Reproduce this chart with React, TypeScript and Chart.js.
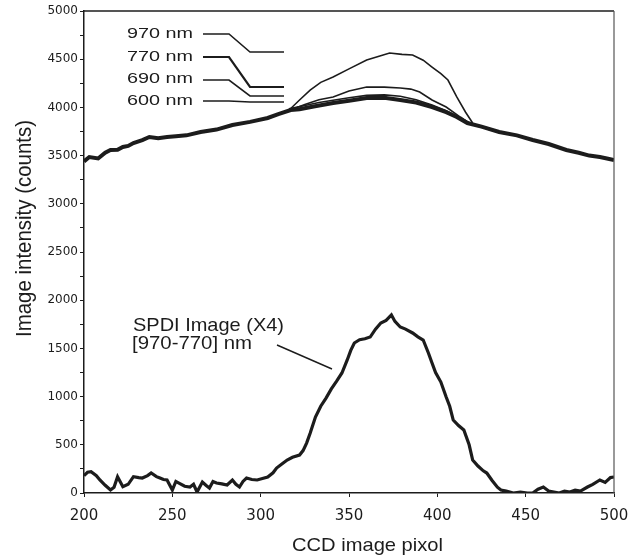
import React, { useEffect, useRef } from "react";
import { Chart, registerables } from "chart.js";

Chart.register(...registerables);

// ---- Data ----
const xTickValues = [200, 250, 300, 350, 400, 450, 500];
const yTickValues = [0, 500, 1000, 1500, 2000, 2500, 3000, 3500, 4000, 4500, 5000];

const legendLabels = ["970 nm", "770 nm", "690 nm", "600 nm"];
const spdiLabels = ["SPDI Image (X4)", "[970-770] nm"];
const xTitle = "CCD image pixol";
const yTitle = "Image intensity (counts)";

// 600 nm (thick base curve)
const base600X = [200, 203, 208, 212, 215, 219, 222, 225, 228, 233, 237, 242, 247, 252, 258, 266, 275, 284, 294, 304, 310, 317, 322, 330, 341, 350, 360, 370, 379, 388, 397, 405, 411, 417, 425, 435, 445, 454, 463, 473, 480, 486, 492, 496, 500];
const base600Y = [3440, 3485, 3470, 3530, 3558, 3560, 3590, 3600, 3631, 3660, 3693, 3680, 3693, 3700, 3710, 3745, 3770, 3817, 3850, 3890, 3930, 3973, 3980, 4010, 4046, 4070, 4097, 4100, 4077, 4050, 4004, 3950, 3900, 3838, 3800, 3745, 3710, 3662, 3620, 3558, 3530, 3500, 3485, 3470, 3454];

// 690 nm (almost on top of 600 nm)
const c690X = [316, 325, 333, 341, 350, 360, 370, 379, 388, 397, 405, 412, 419];
const c690Y = [3985, 4020, 4050, 4075, 4100, 4125, 4130, 4115, 4080, 4025, 3965, 3900, 3830];

// 770 nm
const c770X = [318, 325, 333, 341, 350, 360, 370, 379, 385, 390, 397, 405, 413, 420];
const c770Y = [3980, 4030, 4080, 4108, 4170, 4211, 4210, 4201, 4190, 4160, 4077, 4004, 3900, 3815];

// 970 nm
const c970X = [316, 322, 328, 334, 341, 350, 360, 367, 373, 380, 386, 392, 397, 402, 406, 411, 416, 420];
const c970Y = [3970, 4077, 4180, 4260, 4315, 4400, 4492, 4530, 4564, 4550, 4544, 4490, 4419, 4350, 4284, 4108, 3950, 3838];

// SPDI image (x4), [970-770] nm
const spdiX = [200, 202, 204, 207, 209, 212, 215, 217, 219, 222, 225, 228, 231, 233, 236, 238, 241, 243, 245, 247, 250, 252, 254, 257, 260, 262, 264, 267, 269, 271, 273, 275, 278, 281, 284, 286, 288, 290, 292, 295, 298, 301, 304, 307, 309, 312, 315, 318, 322, 324, 326, 328, 331, 334, 337, 340, 343, 346, 349, 351, 353, 356, 359, 362, 365, 368, 371, 374, 376, 379, 382, 386, 389, 392, 395, 397, 399, 402, 405, 407, 409, 412, 415, 418, 420, 423, 426, 428, 431, 434, 436, 439, 443, 447, 451, 454, 457, 460, 463, 466, 469, 472, 475, 478, 481, 485, 488, 492, 495, 498, 500];
const spdiY = [180, 215, 221, 180, 135, 80, 31, 60, 169, 65, 90, 169, 160, 155, 180, 207, 170, 155, 140, 135, 31, 120, 100, 70, 62, 90, 10, 114, 80, 52, 120, 104, 95, 83, 135, 90, 62, 120, 155, 140, 135, 150, 166, 210, 259, 300, 342, 370, 394, 440, 518, 620, 788, 900, 985, 1080, 1160, 1245, 1380, 1480, 1556, 1590, 1600, 1618, 1700, 1764, 1790, 1847, 1780, 1722, 1700, 1660, 1620, 1587, 1450, 1349, 1250, 1151, 996, 900, 757, 700, 654, 500, 342, 280, 230, 207, 130, 60, 31, 20, 0, 10, 0, 0, 40, 62, 20, 10, 0, 20, 10, 30, 20, 62, 90, 135, 110, 160, 166];

const zip = (xs: number[], ys: number[]) => xs.map((x, i) => ({ x, y: ys[i] }));

const INK = "#1c1c1c";
const FONT = "'Liberation Sans', Arial, Helvetica, sans-serif";
const TICKFONT = "'DejaVu Sans', 'Liberation Sans', sans-serif";

// draw text left-aligned at (x, y-middle), stretched horizontally to a target width
function fitText(ctx: CanvasRenderingContext2D, text: string, x: number, y: number, w: number, px: number) {
  ctx.save();
  ctx.font = `${px}px ${FONT}`;
  ctx.textAlign = "left";
  ctx.textBaseline = "middle";
  const m = ctx.measureText(text).width || 1;
  ctx.translate(x, y);
  ctx.scale(w / m, 1);
  ctx.fillText(text, 0, 0);
  ctx.restore();
}

const decorPlugin = {
  id: "decor",
  afterDatasetsDraw(chart: any) {
    const ctx = chart.ctx as CanvasRenderingContext2D;
    const a = chart.chartArea;
    const L = a.left;
    const T = a.top;
    ctx.save();
    // frame: top and right borders
    ctx.strokeStyle = INK;
    ctx.lineWidth = 1.5;
    ctx.beginPath();
    ctx.moveTo(a.left, a.top);
    ctx.lineTo(a.right, a.top);
    ctx.stroke();
    ctx.strokeStyle = "#555";
    ctx.lineWidth = 1.2;
    ctx.beginPath();
    ctx.moveTo(a.right, a.top);
    ctx.lineTo(a.right, a.bottom);
    ctx.stroke();

    ctx.fillStyle = INK;
    // legend texts
    const rows = [23, 46, 68, 90];
    legendLabels.forEach((t, i) => fitText(ctx, t, L + 43, T + rows[i], 66, 15));
    // legend leader lines
    const leads = [
      { y0: 23, y1: 41, w: 1.6 },
      { y0: 46, y1: 76, w: 2.2 },
      { y0: 69, y1: 85, w: 1.6 },
      { y0: 90, y1: 91, w: 1.3 },
    ];
    leads.forEach((ld) => {
      ctx.strokeStyle = INK;
      ctx.lineWidth = ld.w;
      ctx.beginPath();
      ctx.moveTo(L + 119, T + ld.y0);
      ctx.lineTo(L + 145, T + ld.y0);
      ctx.lineTo(L + 166, T + ld.y1);
      ctx.lineTo(L + 200, T + ld.y1);
      ctx.stroke();
    });

    // SPDI annotation
    fitText(ctx, spdiLabels[0], L + 49, T + 315, 151, 19);
    fitText(ctx, spdiLabels[1], L + 48, T + 333, 120, 19);
    ctx.strokeStyle = INK;
    ctx.lineWidth = 1.4;
    ctx.beginPath();
    ctx.moveTo(L + 193, T + 334);
    ctx.lineTo(L + 248, T + 358);
    ctx.stroke();

    // axis titles
    fitText(ctx, xTitle, 292, 546, 151, 19);
    ctx.save();
    ctx.translate(25, 337);
    ctx.rotate(-Math.PI / 2);
    fitText(ctx, yTitle, 0, 0, 217, 22);
    ctx.restore();

    ctx.restore();
  },
};

export default function App() {
  const ref = useRef<HTMLCanvasElement | null>(null);

  useEffect(() => {
    if (!ref.current) return;
    const chart = new Chart(ref.current, {
      type: "line",
      data: {
        datasets: [
          { label: "600 nm", data: zip(base600X, base600Y), borderColor: INK, borderWidth: 4, pointRadius: 0, tension: 0 },
          { label: "690 nm", data: zip(c690X, c690Y), borderColor: INK, borderWidth: 1.6, pointRadius: 0, tension: 0 },
          { label: "770 nm", data: zip(c770X, c770Y), borderColor: INK, borderWidth: 1.6, pointRadius: 0, tension: 0 },
          { label: "970 nm", data: zip(c970X, c970Y), borderColor: INK, borderWidth: 1.6, pointRadius: 0, tension: 0 },
          { label: "SPDI", data: zip(spdiX, spdiY), borderColor: INK, borderWidth: 3.2, pointRadius: 0, tension: 0 },
        ],
      },
      options: {
        responsive: false,
        animation: false,
        devicePixelRatio: 1,
        layout: { padding: { top: 11, right: 0, left: 0, bottom: 0 } },
        plugins: { legend: { display: false }, tooltip: { enabled: false } },
        scales: {
          x: {
            type: "linear",
            min: 200,
            max: 500,
            afterBuildTicks: (s: any) => {
              s.ticks = xTickValues.map((v) => ({ value: v }));
            },
            afterFit: (s: any) => {
              s.height = 67;
              s.paddingLeft = 0;
              s.paddingRight = 15;
            },
            ticks: {
              color: INK,
              font: { family: TICKFONT, size: 15 },
              padding: 10,
              maxRotation: 0,
              callback: (v: any) => String(v),
            },
            grid: { drawOnChartArea: false, drawTicks: true, tickLength: 4, color: INK },
            border: { display: true, color: INK, width: 1.5 },
            title: { display: false },
          },
          y: {
            min: 0,
            max: 5000,
            afterBuildTicks: (s: any) => {
              const t: any[] = [];
              for (let v = 0; v <= 5000; v += 250) t.push({ value: v });
              s.ticks = t;
            },
            afterFit: (s: any) => {
              s.width = 84;
              s.paddingTop = 0;
              s.paddingBottom = 0;
            },
            ticks: {
              color: INK,
              font: { family: TICKFONT, size: 12 },
              padding: 2,
              callback: (v: any) => (yTickValues.includes(Number(v)) ? String(v) : ""),
            },
            grid: { drawOnChartArea: false, drawTicks: true, tickLength: 4, color: INK },
            border: { display: true, color: INK, width: 1.5 },
            title: { display: false },
          },
        },
      },
      plugins: [decorPlugin],
    } as any);
    return () => chart.destroy();
  }, []);

  return (
    <div style={{ position: "absolute", left: 0, top: 0, width: 629, height: 560, background: "#fff" }}>
      <canvas ref={ref} width={629} height={560} style={{ width: 629, height: 560, display: "block" }} />
    </div>
  );
}
